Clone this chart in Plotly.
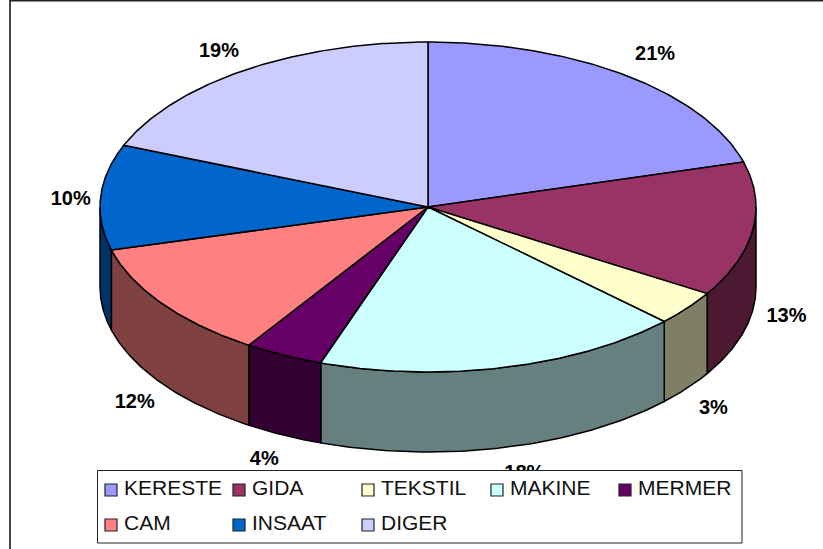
import numpy as np
import plotly.graph_objects as go

categories = ["KERESTE", "GIDA", "TEKSTIL", "MAKINE", "MERMER", "CAM", "INSAAT", "DIGER"]
values = [20.6, 13.2, 3.4, 18.1, 3.9, 11.6, 10.3, 18.9]
percent_labels = ["21%", "13%", "3%", "18%", "4%", "12%", "10%", "19%"]
top_colors = ["#9999FF", "#993366", "#FFFFCC", "#CCFFFF", "#660066", "#FF8080", "#0066CC", "#CCCCFF"]
side_colors = ["#4C4C7F", "#4C1933", "#7F7F66", "#667F7F", "#330033", "#7F4040", "#003366", "#66667F"]

W, H = 823, 549
CX, CY, RX, RY, DEPTH = 428, 207, 328, 165, 80
LABEL_RX, LABEL_RY = 370, 193
label_nudge_x = [4, -8, -7, 10, -1, 6, 12, -2]
label_nudge_y = [2, 3, 4, -1, 0, 3, 5, 5]
legend_cols = [105, 233, 362, 491, 619]
legend_rows = [490, 525]
SWATCH = 12

def ex(t):
    return CX + RX * np.sin(t)

def ey(t):
    return CY - RY * np.cos(t)

fractions = np.array(values) / sum(values)
edges = np.concatenate([[0], np.cumsum(fractions)]) * 2 * np.pi

fig = go.Figure()
outline = dict(color="black", width=1.5)

# walls: only the front half of the cylinder is visible
for i in range(len(values)):
    a, b = max(edges[i], np.pi / 2), min(edges[i + 1], 3 * np.pi / 2)
    if b <= a:
        continue
    t = np.linspace(a, b, 80)
    xs = np.concatenate([ex(t), ex(t[::-1]), [ex(t[0])]])
    ys = np.concatenate([ey(t), ey(t[::-1]) + DEPTH, [ey(t[0])]])
    fig.add_trace(go.Scatter(x=xs, y=ys, mode="lines", fill="toself", fillcolor=side_colors[i],
                             line=outline, hoverinfo="skip", showlegend=False))

# top face
for i in range(len(values)):
    t = np.linspace(edges[i], edges[i + 1], 120)
    xs = np.concatenate([[CX], ex(t), [CX]])
    ys = np.concatenate([[CY], ey(t), [CY]])
    fig.add_trace(go.Scatter(x=xs, y=ys, mode="lines", fill="toself", fillcolor=top_colors[i],
                             line=outline, name=categories[i], showlegend=False))

# percent labels
mid = (edges[:-1] + edges[1:]) / 2
lx = CX + LABEL_RX * np.sin(mid) + np.array(label_nudge_x)
ly = CY - LABEL_RY * np.cos(mid) + np.where(np.cos(mid) < 0, DEPTH, 0) + np.array(label_nudge_y)
fig.add_trace(go.Scatter(x=lx, y=ly, mode="text", text=percent_labels, textposition="middle center",
                         textfont=dict(family="Liberation Sans", size=20, color="black", weight="bold"),
                         hoverinfo="skip", showlegend=False, cliponaxis=False))

# frame and legend
shapes = [
    dict(type="line", x0=10, x1=10, y0=0, y1=H, line=dict(color="#444444", width=2)),
    dict(type="line", x0=10, x1=W, y0=0.5, y1=0.5, line=dict(color="#222222", width=2)),
    dict(type="rect", x0=97.5, x1=742, y0=470.5, y1=543, fillcolor="white",
         line=dict(color="#222222", width=1), layer="above"),
]
annotations = []
for i, name in enumerate(categories):
    row, col = divmod(i, len(legend_cols))
    sx, sy = legend_cols[col], legend_rows[row]
    shapes.append(dict(type="rect", x0=sx, x1=sx + SWATCH, y0=sy - SWATCH / 2, y1=sy + SWATCH / 2,
                       fillcolor=top_colors[i], line=dict(color="#222222", width=1.2), layer="above"))
    annotations.append(dict(x=sx + 19, y=sy - 3, text=name, showarrow=False, xanchor="left", yanchor="middle",
                            xshift=-2, font=dict(family="Liberation Sans", size=21, color="#111111")))

fig.update_layout(
    width=W, height=H, margin=dict(l=0, r=0, t=0, b=0), autosize=False,
    paper_bgcolor="white", plot_bgcolor="white", showlegend=False,
    xaxis=dict(range=[0, W], visible=False, fixedrange=True),
    yaxis=dict(range=[H, 0], visible=False, fixedrange=True),
    shapes=shapes, annotations=annotations,
)
fig.write_html("out.html", config=dict(displayModeBar=False),
               post_script="document.body.style.margin='0';document.documentElement.style.overflow='hidden';")
